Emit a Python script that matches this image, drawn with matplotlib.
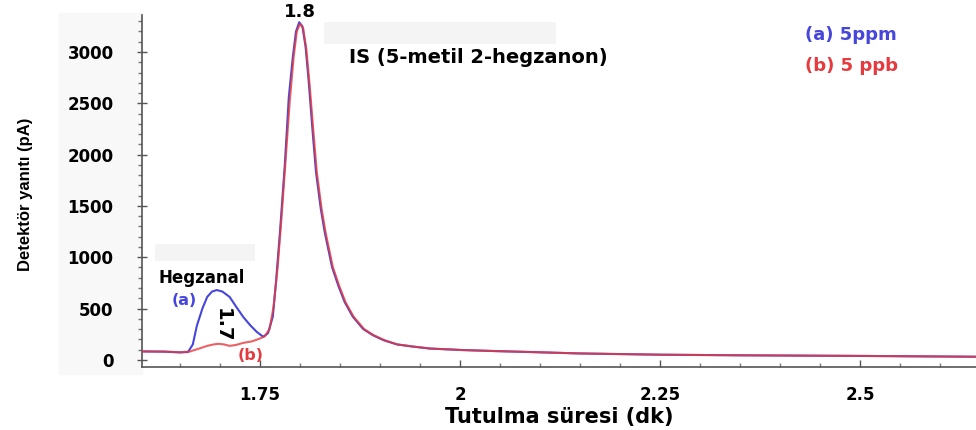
import matplotlib.pyplot as plt
from matplotlib.patches import Rectangle

# retention time (min) and detector response (pA)
t_a = [1.600, 1.630, 1.650, 1.660, 1.666, 1.671, 1.678, 1.684, 1.690, 1.696,
       1.703, 1.712, 1.720, 1.729, 1.738, 1.746, 1.754, 1.760, 1.766, 1.770,
       1.775, 1.781, 1.786, 1.791, 1.795, 1.799, 1.803, 1.807, 1.811, 1.816,
       1.820, 1.826, 1.831, 1.840, 1.848, 1.856, 1.866, 1.879, 1.891, 1.905,
       1.921, 1.940, 1.962, 2.004, 2.045, 2.088, 2.15, 2.25, 2.35, 2.5, 2.645]
y_a = [82, 80, 72, 76, 150, 330, 500, 613, 665, 680,
       665, 613, 520, 418, 335, 272, 224, 260, 420, 760,
       1250, 1900, 2560, 2950, 3200, 3290, 3250, 3050, 2700, 2200,
       1830, 1470, 1240, 905, 720, 560, 420, 300, 240, 190,
       150, 130, 110, 95, 85, 76, 62, 50, 44, 38, 30]

t_b = [1.600, 1.630, 1.650, 1.662, 1.672, 1.684, 1.692, 1.698, 1.705, 1.712,
       1.720, 1.729, 1.740, 1.749, 1.756, 1.762, 1.767, 1.772, 1.777, 1.782,
       1.787, 1.792, 1.796, 1.800, 1.804, 1.808, 1.812, 1.817, 1.821, 1.827,
       1.832, 1.841, 1.849, 1.857, 1.867, 1.880, 1.892, 1.906, 1.922, 1.941,
       1.963, 2.004, 2.045, 2.088, 2.15, 2.25, 2.35, 2.5, 2.645]
y_b = [82, 80, 74, 80, 105, 136, 150, 156, 150, 136,
       145, 165, 180, 205, 230, 300, 520, 900, 1400, 1950,
       2500, 2950, 3200, 3275, 3230, 3020, 2680, 2200, 1830, 1470,
       1240, 905, 720, 560, 420, 300, 240, 190, 150, 130,
       110, 95, 85, 76, 62, 50, 44, 38, 30]

x_ticks = [1.75, 2, 2.25, 2.5]
x_tick_labels = ['1.75', '2', '2.25', '2.5']
y_ticks = [0, 500, 1000, 1500, 2000, 2500, 3000]

blue = '#4646dc'
red = '#e63a3e'

fig = plt.figure(figsize=(9.76, 4.30), dpi=100)
# faint grey panel behind the y tick labels (scan residue in the original)
fig.patches.append(Rectangle((0.06, 0.13), 0.086, 0.84, transform=fig.transFigure,
                             color='#f8f8f8', zorder=-5))
ax = fig.add_axes([0.1455, 0.1465, 0.8545, 0.8185])

ax.plot(t_a, y_a, color=blue, lw=1.5, zorder=3)
ax.plot(t_b, y_b, color=red, lw=1.5, alpha=0.8, zorder=4)

ax.set_xlim(1.6025, 2.645)
ax.set_ylim(-70, 3360)

ax.set_xticks(x_ticks)
ax.set_xticklabels(x_tick_labels)
ax.set_xticks([1.65, 1.7, 1.8, 1.85, 1.9, 1.95, 2.05, 2.1, 2.15, 2.2,
               2.3, 2.35, 2.4, 2.45, 2.55, 2.6], minor=True)
ax.set_yticks(y_ticks)
ax.set_yticks([v for v in range(-100, 3400, 100) if v % 500 != 0 and v > -70], minor=True)

for lab in ax.get_xticklabels() + ax.get_yticklabels():
    lab.set_fontweight('bold')
ax.tick_params(axis='x', which='major', direction='in', length=5, width=1,
               color='#555555', labelsize=12, pad=14)
ax.tick_params(axis='x', which='minor', direction='in', length=3, width=1, color='#777777')
ax.tick_params(axis='y', which='major', direction='inout', length=7, width=1,
               color='#555555', labelsize=12, pad=17)
ax.tick_params(axis='y', which='minor', direction='out', length=3, width=1, color='#777777')

for side in ['top', 'right']:
    ax.spines[side].set_visible(False)
for side in ['left', 'bottom']:
    ax.spines[side].set_color('#555555')
    ax.spines[side].set_linewidth(1.2)

ax.set_xlabel('Tutulma süresi (dk)', fontsize=15, fontweight='bold', labelpad=2)
ax.set_ylabel('Detektör yanıtı (pA)', fontsize=12,
              family=['Liberation Sans', 'DejaVu Sans'], fontweight='bold')
ax.yaxis.set_label_coords(-0.131, 0.49)

# faint blank patches left in the original image
ax.add_patch(Rectangle((1.83, 3080), 0.29, 210, color='#f4f4f4', zorder=1, lw=0))
ax.add_patch(Rectangle((1.619, 960), 0.125, 170, color='#f4f4f4', zorder=1, lw=0))

ax.text(1.80, 3300, '1.8', fontsize=13, fontweight='bold', ha='center', va='bottom',
        clip_on=False)
ax.text(1.861, 2950, 'IS (5-metil 2-hegzanon)', fontsize=14, fontweight='bold',
        ha='left', va='center')
ax.text(2.431, 3165, '(a) 5ppm', fontsize=13, fontweight='bold', color=blue,
        ha='left', va='center')
ax.text(2.431, 2865, '(b) 5 ppb', fontsize=13, fontweight='bold', color=red,
        ha='left', va='center')
ax.text(1.6225, 800, 'Hegzanal', fontsize=12, fontweight='bold', ha='left', va='center')
ax.text(1.64, 575, '(a)', fontsize=11.5, fontweight='bold', color=blue,
        ha='left', va='center')
ax.text(1.7025, 340, '1.7', fontsize=14, fontweight='bold', rotation=270,
        ha='center', va='center')
ax.text(1.7215, 40, '(b)', fontsize=11.5, fontweight='bold', color=red,
        ha='left', va='center')

fig.savefig('out.png', dpi=100)
